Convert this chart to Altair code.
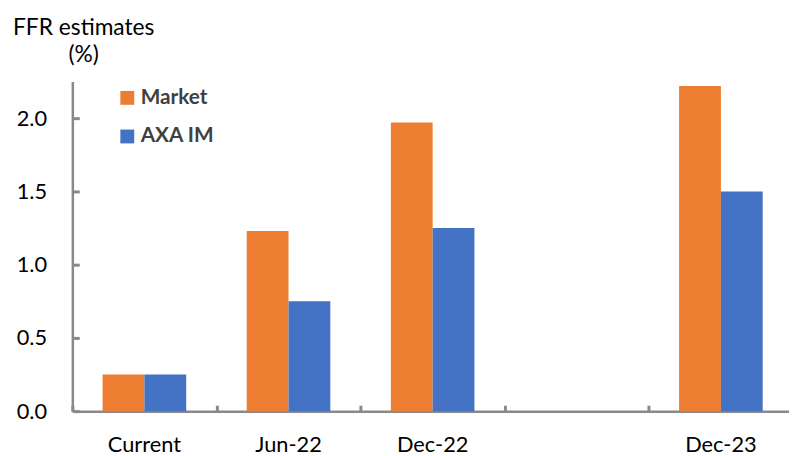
import altair as alt
import pandas as pd

periods = ["Current", "Jun-22", "Dec-22", "", "Dec-23"]
bar_periods = ["Current", "Jun-22", "Dec-22", "Dec-23"]
market = [0.25, 1.23, 1.97, 2.22]
axa = [0.25, 0.75, 1.25, 1.50]
series = ["Market", "AXA IM"]
colors = ["#ED7D31", "#4472C4"]
y_ticks = [0.0, 0.5, 1.0, 1.5, 2.0]

rows = []
for p, m, a in zip(bar_periods, market, axa):
    rows.append({"period": p, "series": "Market", "value": m})
    rows.append({"period": p, "series": "AXA IM", "value": a})
df = pd.DataFrame(rows)

W, H = 724, 333
X_SPAN = 728
AXIS_GRAY = "#898989"

xscale = alt.Scale(domain=periods, range=[0, X_SPAN], paddingInner=0.42, paddingOuter=0.21)
xscale_ticks = alt.Scale(domain=periods, range=[0, X_SPAN], paddingInner=0, paddingOuter=0)
yscale = alt.Scale(domain=[0, 2.25], nice=False, zero=True)

base = alt.Chart(df)

bars = base.mark_bar().encode(
    x=alt.X("period:N", scale=xscale, sort=periods,
            axis=alt.Axis(orient="bottom", title=None, ticks=False, tickSize=0,
                          labelPadding=24, labelFontSize=22, labelColor="#000000",
                          labelAngle=0, domainColor=AXIS_GRAY, domainWidth=2.5,
                          grid=False)),
    xOffset=alt.XOffset("series:N", sort=series,
                        scale=alt.Scale(domain=series, paddingInner=0, paddingOuter=0)),
    y=alt.Y("value:Q", scale=yscale,
            axis=alt.Axis(orient="left", values=y_ticks, format=".1f",
                          ticks=False, tickSize=0, labelPadding=26,
                          labelFontSize=22, labelColor="#000000",
                          domainColor=AXIS_GRAY, domainWidth=2.5, grid=False,
                          title=["FFR estimates", "(%)"], titleAngle=0,
                          titleAlign="center", titleBaseline="alphabetic",
                          titleX=11, titleY=-48, titleFontSize=23,
                          titleFontWeight="normal", titleColor="#000000",
                          titleLineHeight=28)),
    color=alt.Color("series:N", sort=series,
                    scale=alt.Scale(domain=series, range=colors),
                    legend=alt.Legend(orient="none", legendX=45, legendY=6,
                                      title=None, symbolType="square",
                                      symbolSize=196, symbolStrokeWidth=0,
                                      labelFontSize=21, labelFontWeight="bold",
                                      labelColor="#404040", labelOffset=3,
                                      rowPadding=17, padding=0)),
)

ticks_layer = base.mark_bar(opacity=0).encode(
    x=alt.X("period:N", scale=xscale_ticks, sort=periods,
            axis=alt.Axis(orient="top", offset=-H, title=None, labels=False,
                          domain=False, ticks=True, tickSize=6, tickWidth=3,
                          tickColor=AXIS_GRAY, tickBand="extent", grid=False)),
    y=alt.Y("value:Q", scale=yscale,
            axis=alt.Axis(orient="right", offset=-W, title=None, labels=False,
                          domain=False, ticks=True, tickSize=7, tickWidth=3,
                          tickColor=AXIS_GRAY, values=y_ticks, grid=False)),
)

chart = (
    alt.layer(bars, ticks_layer)
    .resolve_scale(x="independent")
    .resolve_axis(x="independent", y="independent")
    .properties(width=W, height=H, autosize="none",
                padding={"left": 65, "top": 72, "right": 0, "bottom": 43})
    .configure(font="Lato")
    .configure_view(stroke=None)
)

chart.save("out.html", embed_options={"renderer": "svg", "actions": False})
